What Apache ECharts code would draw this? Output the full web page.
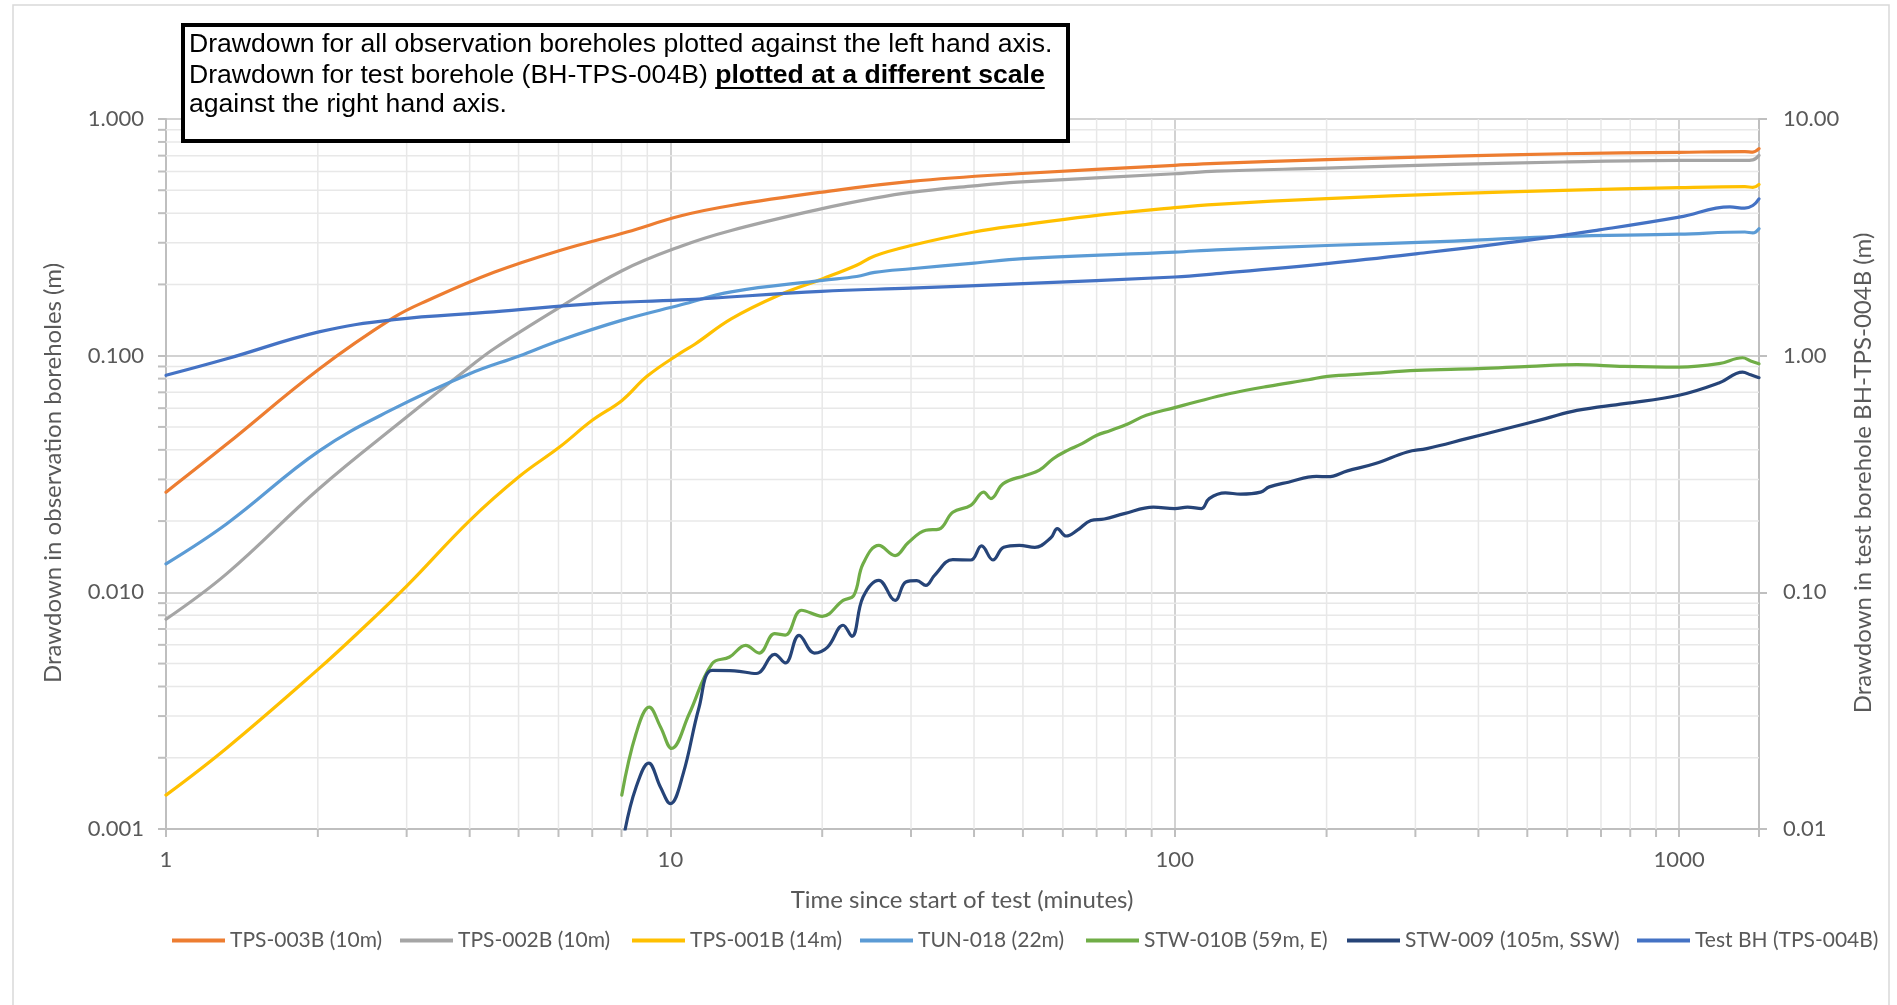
<!DOCTYPE html>
<html>
<head>
<meta charset="utf-8">
<title>Drawdown</title>
<script src="https://cdn.jsdelivr.net/npm/echarts@6/dist/echarts.min.js"></script>
<style>
  html, body { margin: 0; padding: 0; background: #ffffff; }
  #chart { width: 1897px; height: 1005px; }
</style>
</head>
<body>
<div id="chart"></div>
<script>
// ---- Observation borehole drawdown (m), plotted on the left axis ----
const tps003bTime = [1, 1.32, 2.01, 2.83, 3.3, 4.47, 6.06, 8.2, 10.5, 13.2, 20, 30, 48.8, 100, 121, 200, 358, 589, 1000, 1350, 1400, 1440];
const tps003bDraw = [0.0265, 0.0423, 0.0876, 0.145, 0.171, 0.225, 0.279, 0.333, 0.39, 0.431, 0.491, 0.545, 0.587, 0.637, 0.65, 0.673, 0.697, 0.713, 0.723, 0.728, 0.725, 0.749];

const tps002bTime = [1, 1.32, 2.01, 3.0, 4.0, 4.47, 6.03, 8.0, 10.5, 13.2, 20, 25.4, 30, 40, 48.8, 100, 121, 200, 358, 589, 1000, 1350, 1400, 1440];
const tps002bDraw = [0.0077, 0.012, 0.0274, 0.055, 0.0895, 0.107, 0.16, 0.228, 0.29, 0.338, 0.418, 0.463, 0.49, 0.522, 0.541, 0.587, 0.602, 0.62, 0.643, 0.658, 0.668, 0.668, 0.672, 0.702];

const tps001bTime = [1, 1.32, 2.01, 2.43, 3.01, 4.0, 5.03, 6.03, 7.0, 8.02, 9.0, 10.5, 11.2, 13.2, 16.4, 20, 23.4, 25.4, 30, 40, 50, 67.6, 100, 121, 200, 358, 589, 1000, 1350, 1400, 1440];
const tps001bDraw = [0.00139, 0.0022, 0.00476, 0.0069, 0.0107, 0.0201, 0.031, 0.0411, 0.0533, 0.0647, 0.082, 0.103, 0.112, 0.143, 0.18, 0.211, 0.241, 0.264, 0.292, 0.333, 0.357, 0.388, 0.422, 0.436, 0.461, 0.484, 0.499, 0.513, 0.518, 0.514, 0.529];

const tun018Time = [1, 1.32, 2.01, 2.83, 4.0, 5.03, 6.03, 8.0, 10.5, 13.2, 20, 23.4, 25.4, 30, 40, 50, 100, 121, 200, 358, 589, 1000, 1350, 1400, 1440];
const tun018Draw = [0.0132, 0.0195, 0.0395, 0.0597, 0.0839, 0.1, 0.116, 0.141, 0.164, 0.186, 0.208, 0.216, 0.225, 0.233, 0.246, 0.257, 0.274, 0.28, 0.292, 0.305, 0.319, 0.326, 0.333, 0.33, 0.344];

const stw010bTime = [8.01, 8.55, 9.08, 9.56, 10.06, 10.9, 12.1, 13.1, 14.1, 15.0, 16.1, 16.9, 18.2, 20, 22.0, 23.1, 24.1, 25.9, 27.9, 29.6, 32.1, 34.1, 36.3, 39.4, 41.8, 43.2, 45.7, 50.5, 53.9, 57.4, 61.3, 65.5, 69.9, 74.6, 80.9, 87.8, 100, 110, 128, 153, 184, 201, 241, 302, 399, 505, 627, 778, 1000, 1199, 1336, 1386, 1440];
const stw010bDraw = [0.00139, 0.00253, 0.00327, 0.0027, 0.00219, 0.00307, 0.005, 0.00533, 0.00597, 0.00554, 0.00669, 0.0066, 0.0084, 0.00792, 0.00925, 0.0097, 0.0132, 0.0158, 0.0143, 0.0162, 0.0183, 0.0185, 0.0218, 0.0233, 0.0265, 0.0249, 0.0288, 0.0312, 0.0328, 0.0367, 0.0398, 0.0425, 0.046, 0.0483, 0.0516, 0.056, 0.0603, 0.0637, 0.069, 0.0742, 0.0791, 0.0818, 0.0839, 0.0867, 0.0881, 0.0901, 0.0916, 0.0901, 0.0895, 0.0925, 0.098, 0.095, 0.0925];

const stw009Time = [8.13, 8.55, 9.06, 9.56, 10, 10.6, 11.4, 12.1, 13.4, 14.8, 16.1, 16.9, 18.0, 19.3, 20.5, 22.0, 22.9, 24.1, 25.9, 27.9, 29.3, 30.8, 32.1, 33.4, 36.3, 39.4, 41.4, 43.6, 45.8, 49.2, 52.8, 56.8, 58.5, 60.9, 64.1, 68.2, 72.5, 79.4, 90.7, 100, 106, 113, 117, 126, 135, 148, 154, 168, 191, 201, 220, 250, 289, 316, 379, 453, 543, 627, 778, 1000, 1199, 1336, 1386, 1440];
const stw009Draw = [0.00099, 0.0015, 0.0019, 0.0015, 0.00128, 0.00171, 0.00327, 0.00468, 0.00466, 0.00454, 0.00547, 0.00503, 0.00658, 0.00554, 0.00587, 0.00726, 0.00652, 0.00955, 0.01124, 0.00925, 0.01106, 0.0112, 0.0107, 0.0118, 0.01374, 0.0137, 0.0157, 0.0137, 0.0155, 0.0158, 0.0155, 0.017, 0.0186, 0.0173, 0.0183, 0.0201, 0.0204, 0.0215, 0.0229, 0.0226, 0.0229, 0.0226, 0.0249, 0.0263, 0.026, 0.0265, 0.0279, 0.0292, 0.0309, 0.0308, 0.0326, 0.035, 0.0392, 0.0405, 0.0446, 0.0491, 0.0542, 0.0587, 0.0627, 0.068, 0.0766, 0.0852, 0.083, 0.0807];

// ---- Test borehole drawdown (m), plotted on the right axis ----
const testBhTime = [1, 1.32, 2.01, 2.83, 4.46, 7.04, 10.5, 19.9, 29.9, 48.7, 100, 121, 200, 303, 499, 695, 1000, 1261, 1348, 1400, 1440];
const testBhDraw = [0.826, 0.97, 1.26, 1.42, 1.53, 1.66, 1.72, 1.87, 1.93, 2.01, 2.15, 2.22, 2.45, 2.70, 3.07, 3.40, 3.85, 4.25, 4.20, 4.31, 4.60];

const seriesNames = ['TPS-003B (10m)', 'TPS-002B (10m)', 'TPS-001B (14m)', 'TUN-018 (22m)', 'STW-010B (59m, E)', 'STW-009 (105m, SSW)', 'Test BH (TPS-004B)'];
const seriesColors = ['#ED7D31', '#A5A5A5', '#FFC000', '#5B9BD5', '#70AD47', '#264478', '#4472C4'];

// axis ranges and labelled decades
const timeMin = 1, timeMax = 1440;
const obsMin = 0.001, obsMax = 1;
const testMin = 0.01, testMax = 10;
const minorDigits = [2, 3, 4, 5, 6, 7, 8, 9];
const timeMinor = [1, 10, 100].flatMap(d => minorDigits.map(k => k * d)).filter(v => v < timeMax);
const obsMinor = [0.001, 0.01, 0.1].flatMap(d => minorDigits.map(k => +(k * d).toFixed(4)));

const zip = (t, v) => t.map((x, i) => [x, v[i]]);
const seriesData = [
  zip(tps003bTime, tps003bDraw),
  zip(tps002bTime, tps002bDraw),
  zip(tps001bTime, tps001bDraw),
  zip(tun018Time, tun018Draw),
  zip(stw010bTime, stw010bDraw),
  zip(stw009Time, stw009Draw),
  zip(testBhTime, testBhDraw)
];

const GRID = { left: 166, right: 138, top: 119, bottom: 176 };
const AXIS_GREY = '#BFBFBF';
const TEXT_GREY = '#595959';
const UI_FONT = 'Lato, "Open Sans", sans-serif';
const BOX_FONT = '"Liberation Sans", Arial, sans-serif';

// note box text and underline placement
const boxFontSize = 26.6;
const line2Plain = 'Drawdown for test borehole (BH-TPS-004B) ';
const line2Bold = 'plotted at a different scale';
const meas = document.createElement('canvas').getContext('2d');
meas.font = boxFontSize + 'px ' + BOX_FONT;
const plainW = meas.measureText(line2Plain).width;
meas.font = 'bold ' + boxFontSize + 'px ' + BOX_FONT;
const boldW = meas.measureText(line2Bold).width;
const boxTextX = 189;
const lineY = [45, 76, 105];

const chart = echarts.init(document.getElementById('chart'), null, { renderer: 'canvas' });

const minorGridX = {
  type: 'custom', name: 'minor-x', silent: true, clip: false, z: 1,
  xAxisIndex: 0, yAxisIndex: 0,
  data: timeMinor.map(v => [v, obsMin]),
  renderItem: (params, api) => {
    const v = api.value(0);
    const top = api.coord([v, obsMax]);
    const bot = api.coord([v, obsMin]);
    return { type: 'group', children: [
      { type: 'line', shape: { x1: top[0], y1: top[1], x2: bot[0], y2: bot[1] }, style: { stroke: '#E8E8E8', lineWidth: 1.5 } },
      { type: 'line', shape: { x1: bot[0], y1: bot[1], x2: bot[0], y2: bot[1] + 8 }, style: { stroke: AXIS_GREY, lineWidth: 2 } }
    ] };
  }
};
const minorGridY = {
  type: 'custom', name: 'minor-y', silent: true, clip: false, z: 1,
  xAxisIndex: 0, yAxisIndex: 0,
  data: obsMinor.map(v => [timeMin, v]),
  renderItem: (params, api) => {
    const v = api.value(1);
    const l = api.coord([timeMin, v]);
    const r = api.coord([timeMax, v]);
    return { type: 'group', children: [
      { type: 'line', shape: { x1: l[0], y1: l[1], x2: r[0], y2: r[1] }, style: { stroke: '#E8E8E8', lineWidth: 1.5 } },
      { type: 'line', shape: { x1: l[0] - 8, y1: l[1], x2: l[0], y2: l[1] }, style: { stroke: AXIS_GREY, lineWidth: 2 } }
    ] };
  }
};

const isDecade = v => Math.abs(Math.log10(v) - Math.round(Math.log10(v))) < 1e-6;

const dataSeries = seriesNames.map((name, i) => ({
  type: 'line',
  name: name,
  data: seriesData[i],
  yAxisIndex: i === 6 ? 1 : 0,
  showSymbol: false,
  symbol: 'none',
  smooth: 0.4,
  z: 3,
  lineStyle: { color: seriesColors[i], width: 3.2, cap: 'round', join: 'round' },
  itemStyle: { color: seriesColors[i] },
  emphasis: { disabled: true }
}));

const legendLeft = [172, 400, 632, 860, 1086, 1347, 1637];

const BOX_Z = 100;
const option = {
  animation: false,
  backgroundColor: '#ffffff',
  grid: GRID,
  xAxis: {
    type: 'log', logBase: 10, min: timeMin, max: timeMax,
    axisLine: { show: true, lineStyle: { color: AXIS_GREY, width: 2 } },
    axisTick: { show: true, length: 8, lineStyle: { color: AXIS_GREY, width: 2 } },
    axisLabel: {
      margin: 20, color: TEXT_GREY, fontFamily: UI_FONT, fontSize: 22,
      formatter: v => isDecade(v) ? String(Math.round(v)) : ''
    },
    splitLine: { show: true, lineStyle: { color: '#D2D2D2', width: 2 } },
    minorTick: { show: false }, minorSplitLine: { show: false }
  },
  yAxis: [
    {
      type: 'log', logBase: 10, min: obsMin, max: obsMax, position: 'left',
      axisLine: { show: true, lineStyle: { color: AXIS_GREY, width: 2 } },
      axisTick: { show: true, length: 8, lineStyle: { color: AXIS_GREY, width: 2 } },
      axisLabel: { margin: 22, color: TEXT_GREY, fontFamily: UI_FONT, fontSize: 22, formatter: v => v.toFixed(3) },
      splitLine: { show: true, lineStyle: { color: '#D2D2D2', width: 2 } }
    },
    {
      type: 'log', logBase: 10, min: testMin, max: testMax, position: 'right',
      axisLine: { show: true, lineStyle: { color: AXIS_GREY, width: 2 } },
      axisTick: { show: true, length: 8, lineStyle: { color: AXIS_GREY, width: 2 } },
      axisLabel: { margin: 24, color: TEXT_GREY, fontFamily: UI_FONT, fontSize: 22, formatter: v => v.toFixed(2) },
      splitLine: { show: false }
    }
  ],
  legend: seriesNames.map((name, i) => ({
    data: [name], left: legendLeft[i], top: 930, padding: 0,
    icon: 'rect', itemWidth: 53, itemHeight: 4, selectedMode: false,
    textStyle: { color: TEXT_GREY, fontFamily: UI_FONT, fontSize: 21 }
  })),
  series: [minorGridX, minorGridY].concat(dataSeries),
  graphic: [
    { type: 'rect', z: -10, silent: true, shape: { x: 13, y: 5, width: 1876, height: 1020 },
      style: { fill: 'none', stroke: '#D9D9D9', lineWidth: 1.5 } },
    { type: 'text', silent: true, x: 962, y: 900,
      style: { text: 'Time since start of test (minutes)', fill: TEXT_GREY, font: '24px ' + UI_FONT, align: 'center', verticalAlign: 'middle' } },
    { type: 'text', silent: true, x: 53, y: 473, rotation: Math.PI / 2,
      style: { text: 'Drawdown in observation boreholes (m)', fill: TEXT_GREY, font: '24px ' + UI_FONT, align: 'center', verticalAlign: 'middle' } },
    { type: 'text', silent: true, x: 1863, y: 473, rotation: Math.PI / 2,
      style: { text: 'Drawdown in test borehole BH-TPS-004B (m)', fill: TEXT_GREY, font: '24px ' + UI_FONT, align: 'center', verticalAlign: 'middle' } },
    // note box drawn above the plot
    { type: 'rect', z: BOX_Z, silent: true, shape: { x: 183, y: 25, width: 885, height: 116 },
      style: { fill: '#ffffff', stroke: '#000000', lineWidth: 4 } },
    { type: 'text', z: BOX_Z + 1, silent: true, x: boxTextX, y: lineY[0],
      style: { text: 'Drawdown for all observation boreholes plotted against the left hand axis.', fill: '#000', font: boxFontSize + 'px ' + BOX_FONT, verticalAlign: 'middle' } },
    { type: 'text', z: BOX_Z + 1, silent: true, x: boxTextX, y: lineY[1],
      style: { text: line2Plain, fill: '#000', font: boxFontSize + 'px ' + BOX_FONT, verticalAlign: 'middle' } },
    { type: 'text', z: BOX_Z + 1, silent: true, x: boxTextX + plainW, y: lineY[1],
      style: { text: line2Bold, fill: '#000', font: 'bold ' + boxFontSize + 'px ' + BOX_FONT, verticalAlign: 'middle' } },
    { type: 'line', z: BOX_Z + 1, silent: true,
      shape: { x1: boxTextX + plainW, y1: lineY[1] + 12, x2: boxTextX + plainW + boldW, y2: lineY[1] + 12 },
      style: { stroke: '#000', lineWidth: 2 } },
    { type: 'text', z: BOX_Z + 1, silent: true, x: boxTextX, y: lineY[2],
      style: { text: 'against the right hand axis.', fill: '#000', font: boxFontSize + 'px ' + BOX_FONT, verticalAlign: 'middle' } }
  ]
};

chart.setOption(option);
</script>
</body>
</html>
